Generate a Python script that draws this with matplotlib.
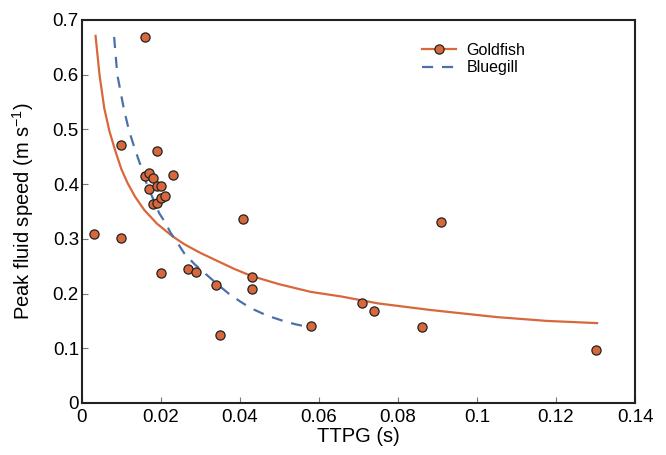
import matplotlib
matplotlib.use('Agg')
import matplotlib.pyplot as plt
from matplotlib.lines import Line2D
from matplotlib.ticker import FormatStrFormatter

plt.rcParams['font.family'] = ['Liberation Sans', 'DejaVu Sans']
plt.rcParams['mathtext.default'] = 'regular'

# Goldfish measurements (TTPG s, peak fluid speed m/s)
ttpg = [0.0031, 0.0100, 0.0100, 0.0160, 0.0190, 0.0160, 0.0170, 0.0180,
        0.0230, 0.0170, 0.0190, 0.0200, 0.0180, 0.0190, 0.0200, 0.0211,
        0.0408, 0.0200, 0.0270, 0.0290, 0.0340, 0.0350, 0.0430, 0.0430,
        0.0581, 0.0710, 0.0740, 0.0910, 0.0861, 0.1301]
speed = [0.309, 0.301, 0.472, 0.668, 0.461, 0.414, 0.420, 0.412,
         0.417, 0.391, 0.397, 0.397, 0.363, 0.366, 0.374, 0.378,
         0.336, 0.237, 0.245, 0.240, 0.215, 0.124, 0.230, 0.209,
         0.140, 0.183, 0.168, 0.330, 0.138, 0.096]

# fitted curves
gold_x = [0.0035, 0.0045, 0.0057, 0.0070, 0.0084, 0.0100, 0.0116, 0.0135,
          0.0158, 0.0190, 0.0229, 0.0260, 0.0301, 0.0345, 0.0386, 0.0430,
          0.0500, 0.0580, 0.0654, 0.0750, 0.0882, 0.1050, 0.1177, 0.1304]
gold_y = [0.671, 0.600, 0.539, 0.497, 0.463, 0.428, 0.402, 0.377,
          0.353, 0.328, 0.305, 0.290, 0.274, 0.259, 0.245, 0.232,
          0.217, 0.203, 0.195, 0.182, 0.170, 0.157, 0.150, 0.146]

blue_x = [0.0082, 0.0090, 0.0107, 0.0120, 0.0135, 0.0150, 0.0162, 0.0180,
          0.0196, 0.0212, 0.0225, 0.0242, 0.0259, 0.0285, 0.0315, 0.0345,
          0.0375, 0.0400, 0.0426, 0.0468, 0.0510, 0.0540, 0.0566]
blue_y = [0.669, 0.600, 0.536, 0.497, 0.463, 0.432, 0.405, 0.374,
          0.347, 0.329, 0.311, 0.293, 0.274, 0.254, 0.235, 0.216,
          0.198, 0.186, 0.174, 0.160, 0.150, 0.144, 0.140]

orange = '#d9673c'
blue = '#4a72a8'

fig = plt.figure(figsize=(6.66, 4.55), dpi=100)
ax = fig.add_axes([0.1227, 0.1143, 0.8308, 0.8418])

ax.plot(gold_x, gold_y, color=orange, lw=1.6, zorder=2)
ax.plot(blue_x, blue_y, color=blue, lw=1.6, ls=(0, (5, 4)), zorder=2)
ax.plot(ttpg, speed, 'o', color=orange, mec='#222222', mew=0.9, ms=6.6, ls='none', zorder=3)

ax.set_xlim(0, 0.14)
ax.set_ylim(0, 0.7)
ax.set_xticks([0, 0.02, 0.04, 0.06, 0.08, 0.1, 0.12, 0.14])
ax.set_yticks([0, 0.1, 0.2, 0.3, 0.4, 0.5, 0.6, 0.7])
ax.xaxis.set_major_formatter(FormatStrFormatter('%g'))
ax.yaxis.set_major_formatter(FormatStrFormatter('%g'))
ax.tick_params(direction='in', length=4, width=0.8, color='#777777',
               labelsize=13.5, top=False, right=False)
ax.tick_params(axis='x', pad=4)
ax.tick_params(axis='y', pad=2)
for s in ax.spines.values():
    s.set_linewidth(1.5)
    s.set_color('#222222')

ax.set_xlabel('TTPG (s)', fontsize=14.5)
ax.set_ylabel('Peak fluid speed (m s$^{-1}$)', fontsize=14.5)
ax.xaxis.set_label_coords(0.5, -0.063)
ax.yaxis.set_label_coords(-0.083, 0.5)

handles = [Line2D([], [], color=orange, lw=1.6, marker='o', ms=6.6, mfc=orange,
                  mec='#222222', mew=0.9),
           Line2D([], [], color=blue, lw=1.6, ls=(0, (5, 4)))]
ax.legend(handles, ['Goldfish', 'Bluegill'], loc='upper left',
          bbox_to_anchor=(0.589, 0.978), frameon=False, fontsize=11.5,
          handlelength=2.1, handletextpad=0.7, labelspacing=0.15)

fig.savefig('out.png', dpi=100)
